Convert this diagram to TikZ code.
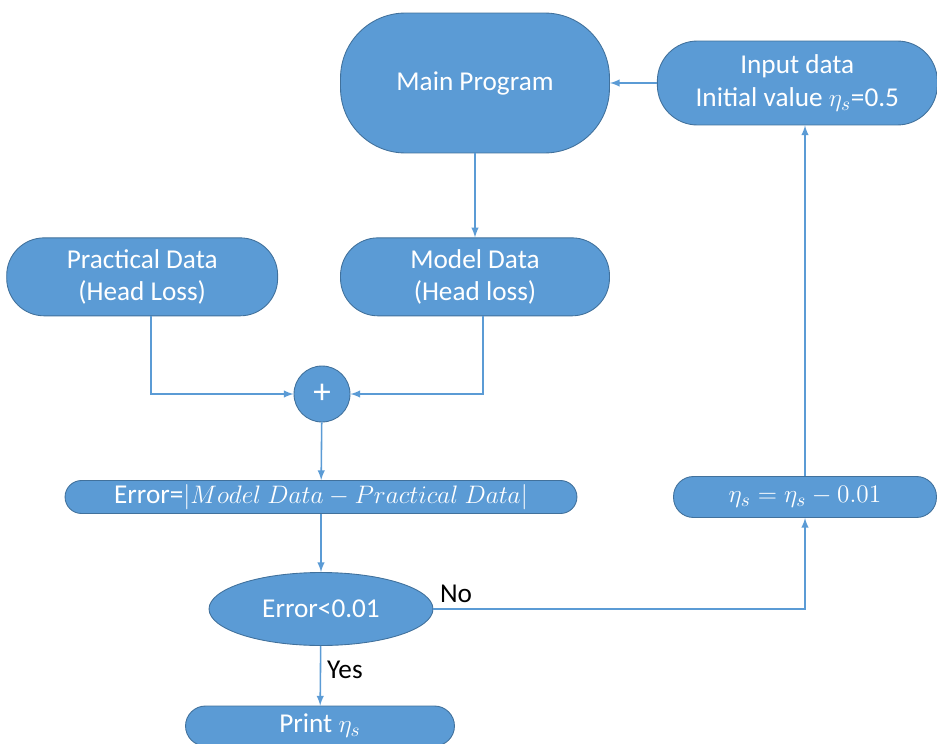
\documentclass[tikz,border=0pt]{standalone}
\usepackage{amsmath}
\usepackage{fontspec}
\setmainfont{Carlito}
\usetikzlibrary{arrows,shapes,positioning,calc}
\definecolor{boxblue}{HTML}{5B9BD5}
\definecolor{edgeblue}{HTML}{41719C}

\begin{document}
\begin{tikzpicture}[x=0.02cm,y=-0.02cm,>=latex,font=\fontsize{15.5}{18.5}\selectfont]
    \tikzstyle{block}=[rectangle, draw=edgeblue, fill=boxblue, text=white, align=center, line width=0.5pt, inner sep=2pt]
    \tikzstyle{flow}=[->, draw=boxblue, line width=0.9pt]

    \clip (0,0) rectangle (937,744);

    \node[block, minimum width=5.38cm, minimum height=2.8cm, rounded corners=1.3cm] (main) at (475,83) {Main Program};
    \node[block, minimum width=5.6cm, minimum height=1.68cm, rounded corners=0.8cm, right=0.94cm of main] (input) {Input data\\Initial value $\eta_s$=0.5};
    \node[block, minimum width=5.38cm, minimum height=1.56cm, rounded corners=0.75cm, below=1.68cm of main] (model) {Model Data\\(Head loss)};
    \node[block, minimum width=5.42cm, minimum height=1.56cm, rounded corners=0.75cm, left=1.24cm of model] (practical) {Practical Data\\(Head Loss)};
    \node[block, circle, minimum size=1.12cm, font=\fontsize{20}{22}\selectfont] (plus) at (322,394) {+};
    \node[block, minimum width=10.24cm, minimum height=0.66cm, rounded corners=0.33cm, inner sep=0pt] (error) at (321,497) {Error=$|Model\ Data-Practical\ Data|$};
    \node[block, minimum width=5.26cm, minimum height=0.82cm, rounded corners=0.4cm] (update) at (805,497) {$\eta_s=\eta_s-0.01$};
    \node[block, ellipse, minimum width=4.48cm, minimum height=1.46cm, inner sep=0pt] (test) at (321,609) {Error<0.01};
    \node[block, minimum width=5.38cm, minimum height=0.8cm, rounded corners=0.4cm] (print) at (320,726) {Print $\eta_s$};

    \draw[flow] (main) -- (model);
    \draw[flow] (input.west) -- (input.west -| main.east);
    \draw[flow] ([xshift=0.18cm]practical.south) |- (plus.west);
    \draw[flow] ([xshift=0.16cm]model.south) |- (plus.east);
    \draw[flow] (plus) -- (error);
    \draw[flow] (error) -- (test);
    \draw[flow] (test) -- node[right, text=black, pos=0.4] {Yes} (print);
    \draw[flow] (test.east) node[above right, text=black] {No} -| (update.south);
    \draw[flow] (update.north) -- (update.north |- input.south);

\end{tikzpicture}
\end{document}
